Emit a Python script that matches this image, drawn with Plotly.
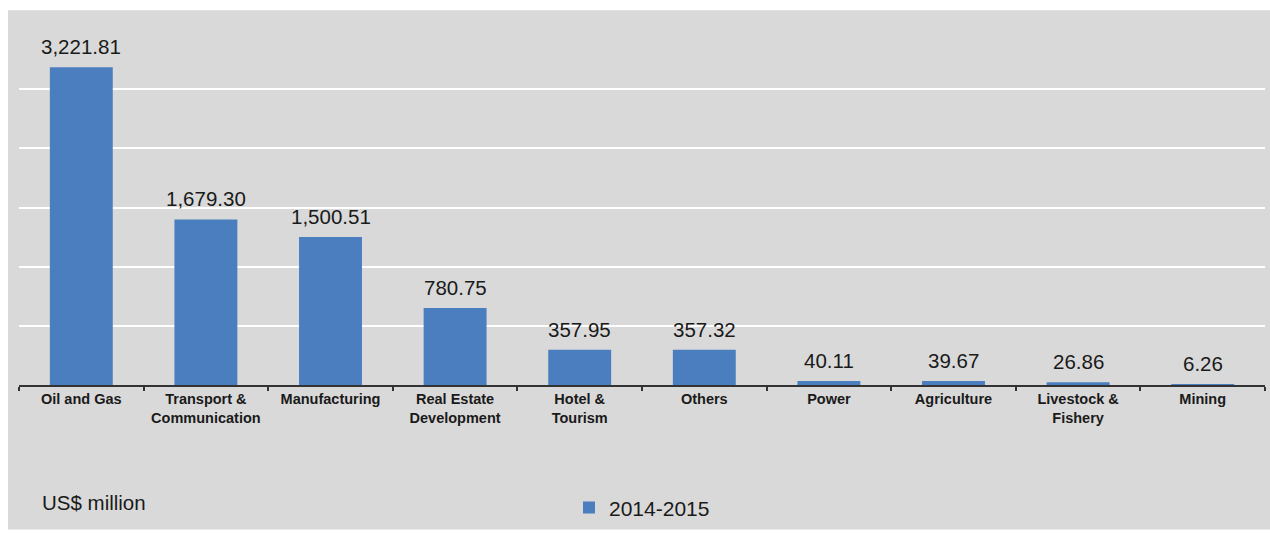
import plotly.graph_objects as go

categories = ["Oil and Gas", "Transport &<br>Communication", "Manufacturing",
              "Real Estate<br>Development", "Hotel &<br>Tourism", "Others",
              "Power", "Agriculture", "Livestock &<br>Fishery", "Mining"]
values = [3221.81, 1679.30, 1500.51, 780.75, 357.95, 357.32, 40.11, 39.67, 26.86, 6.26]
series_name = "2014-2015"
grid_vals = [600, 1200, 1800, 2400, 3000]

W, H = 1270, 533
PL, PR, PT, PB = 19, 1265, 30, 391          # plot area in window pixels
ML, MT, MR, MB = PL, PT, W - PR, H - PB
PW = PR - PL
PH = PB - PT

GREY = "#d9d9d9"
BLUE = "#4a7ebf"
FONT = "Liberation Sans, Arial, sans-serif"

fig = go.Figure()
fig.add_trace(go.Bar(
    x=categories, y=values, name=series_name,
    marker=dict(color=BLUE, line=dict(width=0)),
    showlegend=True,
))

# value labels above bars
for c, v in zip(categories, values):
    fig.add_annotation(x=c, y=v, text=f"{v:,.2f}", showarrow=False,
                       xref="x", yref="y", yanchor="bottom", yshift=7,
                       font=dict(family=FONT, size=20.5, color="#1a1a1a"))

# unit label
fig.add_annotation(text="US$ million", xref="paper", yref="paper",
                   x=(40 - PL) / PW, y=-(510 - PB) / PH,
                   xanchor="left", yanchor="middle", showarrow=False,
                   font=dict(family=FONT, size=20.5, color="#1a1a1a"))

# grey panel, leaving thin white strips at the top and left
fig.add_shape(type="rect", xref="paper", yref="paper", layer="below",
              x0=(8 - PL) / PW, x1=(W + 5 - PL) / PW,
              y0=-(H + 5 - PB) / PH, y1=(PB - 10) / PH,
              fillcolor=GREY, line=dict(width=0))

fig.update_layout(
    width=W, height=H,
    margin=dict(l=ML, r=MR, t=MT, b=MB, pad=0),
    paper_bgcolor="white",
    plot_bgcolor=GREY,
    bargap=0.495,
    font=dict(family=FONT, color="#1a1a1a"),
    legend=dict(orientation="h", xanchor="left", yanchor="middle",
                x=(569 - PL) / PW, y=-(516 - PB) / PH,
                bgcolor="rgba(0,0,0,0)",
                font=dict(family=FONT, size=21, color="#1a1a1a"),
                itemwidth=30),
    xaxis=dict(
        showline=True, linecolor="#333333", linewidth=1.5,
        ticks="outside", tickson="boundaries", ticklen=4,
        tickcolor="#333333", tickwidth=1.5,
        tickfont=dict(family=FONT, size=14.5, color="#1a1a1a", weight="bold"),
        showgrid=False, tickangle=0,
    ),
    yaxis=dict(
        range=[0, 3600], tickvals=grid_vals, showticklabels=False,
        showgrid=True, gridcolor="white", gridwidth=1.5,
        zeroline=False, showline=False, ticks="",
    ),
)

fig.write_html("out.html",
               config={"displayModeBar": False},
               post_script="document.body.style.margin='0';"
                           "document.body.style.overflow='hidden';")
